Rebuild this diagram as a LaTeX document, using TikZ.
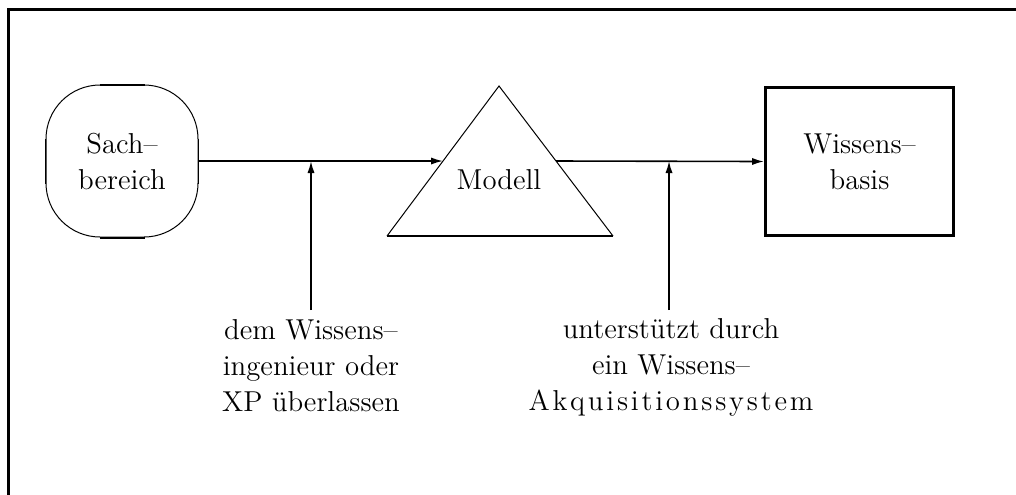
\documentclass[tikz,border=0pt]{standalone}
\usepackage{fontspec}
\usetikzlibrary{arrows.meta,calc}
\newcommand\lsk{\kern1.4pt}
\begin{document}
\begin{tikzpicture}[x=0.5pt,y=-0.5pt,font=\Large,
  arr/.style={line width=0.8pt,-{Latex[length=6pt,width=3.6pt]}},
  lbl/.style={align=center,inner sep=0pt},
  thin/.style={line width=0.5pt},
  thick/.style={line width=1pt}]
\useasboundingbox (0,0) rectangle (1016,494);
\clip (0,0) rectangle (1016,494);
% frame
\draw[line width=1.5pt] (8,530) -- (8,9) -- (1040,9);
% Sachbereich
\node[draw,thin,rounded corners=27pt,minimum width=76pt,minimum height=76pt,
      inner sep=0pt,align=center] (sach) at (122,161) {Sach--\\bereich};
\draw[thick] ([xshift=27pt]sach.north west) -- ([xshift=-27pt]sach.north east);
\draw[thick] ([xshift=27pt]sach.south west) -- ([xshift=-27pt]sach.south east);
\draw[line width=0.7pt] ([yshift=-27pt]sach.north west) -- ([yshift=27pt]sach.south west);
\draw[line width=0.7pt] ([yshift=-27pt]sach.north east) -- ([yshift=27pt]sach.south east);
% Modell triangle
\coordinate (tA) at (499,86);
\coordinate (tL) at (387,236);
\coordinate (tR) at (613,236);
\draw[thin] (tL) -- (tA) -- (tR);
\draw[thick] (tL) -- (tR);
\node[inner sep=0pt] (modell) at (499,180) {Modell};
\coordinate (tin) at ($(tL)!0.5!(tA)$);
\coordinate (tout) at ($(tR)!0.5!(tA)$);
% Wissensbasis
\node[draw,line width=1.5pt,minimum width=94pt,minimum height=74pt,
      inner sep=0pt,align=center] (wb) at (859.5,161.5) {Wissens--\\basis};
% main arrows
\draw[arr] (sach.east) -- (tin);
\draw[arr] (tout) -- (wb.west);
% junctions
\coordinate (j1) at (311,161);
\coordinate (j2) at (669,161);
\coordinate (b1) at (311,310);
\coordinate (b2) at (669,310);
\draw[arr] (b1) -- (j1);
\draw[arr] (b2) -- (j2);
% labels
\node[lbl] (l1) at (311,366) {dem Wissens--\\ingenieur oder\\XP überlassen};
\node[lbl] (l2) at (671,367) {unterstützt durch\\ein Wissens--\\A\lsk k\lsk q\lsk u\lsk i\lsk s\lsk i\lsk t\lsk i\lsk o\lsk n\lsk s\lsk s\lsk y\lsk s\lsk t\lsk e\lsk m};
\end{tikzpicture}
\end{document}
